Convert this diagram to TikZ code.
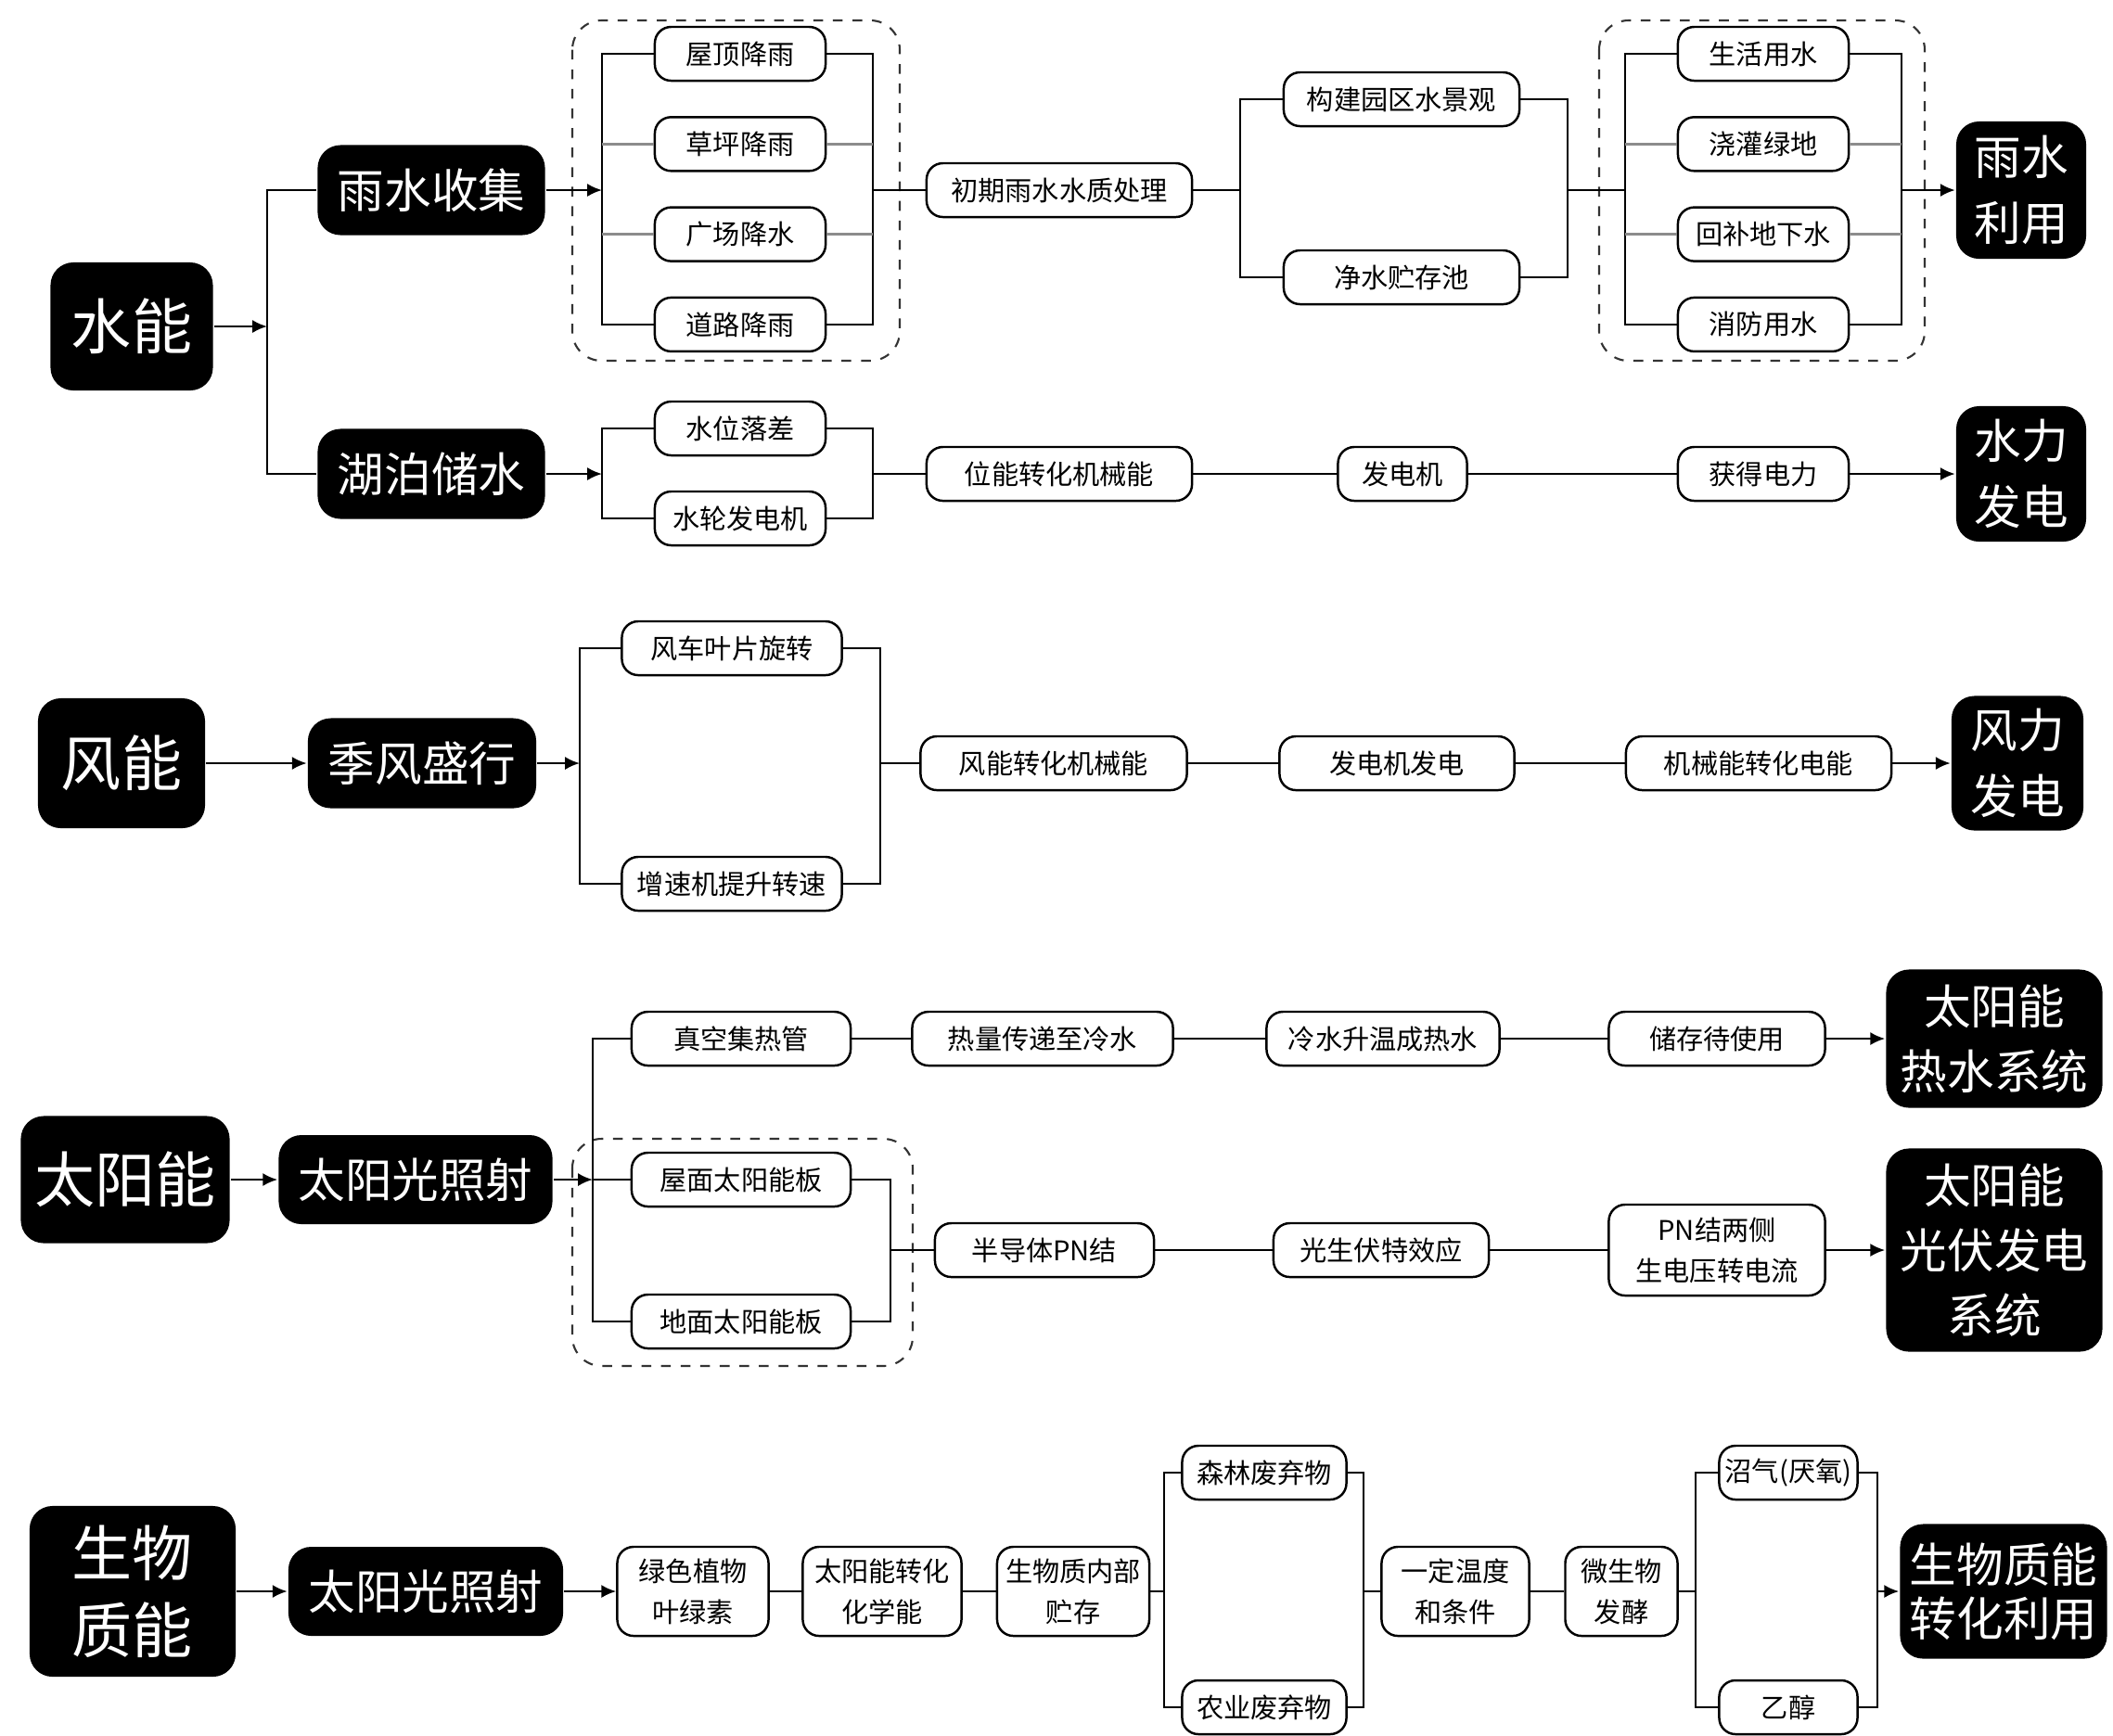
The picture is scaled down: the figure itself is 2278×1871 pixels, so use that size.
\documentclass[tikz,border=0pt]{standalone}
\usepackage{fontspec}
\setmainfont{Noto Sans CJK SC}
\usetikzlibrary{arrows.meta}
\begin{document}
\begin{tikzpicture}[>={Latex[length=4.5pt,width=4pt]}, x=0.01cm, y=-0.01cm, line width=0.7pt,
  box/.style={draw, rounded corners=5pt, minimum height=0.58cm, inner sep=1pt, align=center, font=\fontsize{8.3}{12.5}\selectfont},
  blk/.style={fill=black, text=white, rounded corners=7pt, inner sep=1pt, align=center, font=\fontsize{14.4}{20}\selectfont},
  grpbox/.style={dashed, draw=black!80, rounded corners=9pt, line width=0.6pt},
  midln/.style={draw=black!45}]
\useasboundingbox (0,0) rectangle (2278,1871);

% water
\node[blk, minimum width=1.75cm, minimum height=1.38cm, font=\fontsize{18.5}{24}\selectfont] (water) at (142,352) {水能};
\node[blk, minimum width=2.45cm, minimum height=0.97cm] (rain) at (465,205) {雨水收集};
\node[blk, minimum width=2.45cm, minimum height=0.97cm] (lake) at (465,511) {湖泊储水};
\coordinate (wbus) at (288,352);
\draw[->] (water) -- (wbus);
\draw (rain.west) -| (wbus) |- (lake.west);

\draw[grpbox] (617,22) rectangle (970,389);
\foreach \t [count=\i] in {屋顶降雨,草坪降雨,广场降水,道路降雨}
  \node[box, minimum width=1.84cm] (r\i) at (798,{58+97.3*(\i-1)}) {\t};
\coordinate (rin) at (649,205);
\coordinate (rout) at (941,205);
\draw[->] (rain) -- (rin);
\draw (r1.west) -| (rin) |- (r4.west);
\draw (r1.east) -| (rout) |- (r4.east);
\draw[midln] (r2.west) -- (r2.west -| rin) (r3.west) -- (r3.west -| rin)
  (r2.east) -- (r2.east -| rout) (r3.east) -- (r3.east -| rout);

\node[box, minimum width=2.86cm] (treat) at (1142,205) {初期雨水水质处理};
\node[box, minimum width=2.54cm] (scene) at (1511,107) {构建园区水景观};
\node[box, minimum width=2.54cm] (pool) at (1511,299) {净水贮存池};
\coordinate (tbus) at (1337,205);
\coordinate (sbus) at (1690,205);
\draw (rout) -- (treat) -- (tbus);
\draw (scene.west) -| (tbus) |- (pool.west);
\draw (scene.east) -| (sbus) |- (pool.east);

\draw[grpbox] (1724,22) rectangle (2075,389);
\foreach \t [count=\i] in {生活用水,浇灌绿地,回补地下水,消防用水}
  \node[box, minimum width=1.84cm] (u\i) at (1901,{58+97.3*(\i-1)}) {\t};
\coordinate (uin) at (1752,205);
\coordinate (uout) at (2050,205);
\draw (sbus) -- (uin);
\draw (u1.west) -| (uin) |- (u4.west);
\draw (u1.east) -| (uout) |- (u4.east);
\draw[midln] (u2.west) -- (u2.west -| uin) (u3.west) -- (u3.west -| uin)
  (u2.east) -- (u2.east -| uout) (u3.east) -- (u3.east -| uout);
\node[blk, minimum width=1.40cm, minimum height=1.48cm] (rainuse) at (2179,205) {雨水\\利用};
\draw[->] (uout) -- (rainuse);

\node[box, minimum width=1.84cm] (drop) at (798,462) {水位落差};
\node[box, minimum width=1.84cm] (turb) at (798,559) {水轮发电机};
\coordinate (lin) at (649,511);
\coordinate (lout) at (941,511);
\draw[->] (lake) -- (lin);
\draw (drop.west) -| (lin) |- (turb.west);
\draw (drop.east) -| (lout) |- (turb.east);
\node[box, minimum width=2.86cm] (pot) at (1142,511) {位能转化机械能};
\node[box, minimum width=1.39cm] (gen) at (1512,511) {发电机};
\node[box, minimum width=1.84cm] (power) at (1901,511) {获得电力};
\node[blk, minimum width=1.40cm, minimum height=1.46cm] (hydro) at (2179,511) {水力\\发电};
\draw (lout) -- (pot) -- (gen) -- (power);
\draw[->] (power) -- (hydro);

% wind
\node[blk, minimum width=1.80cm, minimum height=1.40cm, font=\fontsize{18.5}{24}\selectfont] (wind) at (131,823) {风能};
\node[blk, minimum width=2.46cm, minimum height=0.97cm] (monsoon) at (455,823) {季风盛行};
\coordinate (win) at (625,823);
\coordinate (wout) at (949,823);
\draw[->] (wind) -- (monsoon);
\draw[->] (monsoon) -- (win);
\node[box, minimum width=2.37cm] (blade) at (789,699) {风车叶片旋转};
\node[box, minimum width=2.37cm] (gear) at (789,953) {增速机提升转速};
\draw (blade.west) -| (win) |- (gear.west);
\draw (blade.east) -| (wout) |- (gear.east);
\node[box, minimum width=2.87cm] (wmech) at (1136,823) {风能转化机械能};
\node[box, minimum width=2.53cm] (wgen) at (1506,823) {发电机发电};
\node[box, minimum width=2.86cm] (welec) at (1896,823) {机械能转化电能};
\node[blk, minimum width=1.42cm, minimum height=1.45cm] (windpow) at (2175,823) {风力\\发电};
\draw (wout) -- (wmech) -- (wgen) -- (welec);
\draw[->] (welec) -- (windpow);

% solar
\node[blk, minimum width=2.25cm, minimum height=1.37cm, font=\fontsize{18.5}{24}\selectfont] (solar) at (135,1272) {太阳能};
\node[blk, minimum width=2.95cm, minimum height=0.96cm] (sun) at (448,1272) {太阳光照射};
\coordinate (sin) at (639,1272);
\coordinate (sout) at (960,1348);
\draw[->] (solar) -- (sun);
\draw[->] (sun) -- (sin);
\draw[grpbox] (617,1228) rectangle (984,1473);
\node[box, minimum width=2.36cm] (tube) at (799,1120) {真空集热管};
\node[box, minimum width=2.36cm] (roof) at (799,1272) {屋面太阳能板};
\node[box, minimum width=2.36cm] (ground) at (799,1425) {地面太阳能板};
\draw (tube.west) -| (sin) |- (ground.west);
\draw (sin) -- (roof);
\draw (roof.east) -| (sout) |- (ground.east);

\node[box, minimum width=2.81cm] (heat) at (1124,1120) {热量传递至冷水};
\node[box, minimum width=2.51cm] (hot) at (1491,1120) {冷水升温成热水};
\node[box, minimum width=2.33cm] (store) at (1851,1120) {储存待使用};
\node[blk, minimum width=2.33cm, minimum height=1.49cm] (hotsys) at (2150,1120) {太阳能\\热水系统};
\draw (tube) -- (heat) -- (hot) -- (store);
\draw[->] (store) -- (hotsys);

\node[box, minimum width=2.36cm] (pn) at (1126,1348) {半导体PN结};
\node[box, minimum width=2.32cm] (pv) at (1489,1348) {光生伏特效应};
\node[box, minimum width=2.33cm, minimum height=0.98cm] (volt) at (1851,1348) {PN结两侧\\生电压转电流};
\node[blk, minimum width=2.33cm, minimum height=2.19cm] (pvsys) at (2150,1348) {太阳能\\光伏发电\\系统};
\draw (sout) -- (pn) -- (pv) -- (volt);
\draw[->] (volt) -- (pvsys);

% biomass
\node[blk, minimum width=2.22cm, minimum height=1.84cm, font=\fontsize{18.5}{23.5}\selectfont] (bio) at (143,1716) {生物\\质能};
\node[blk, minimum width=2.96cm, minimum height=0.96cm] (sun2) at (459,1716) {太阳光照射};
\node[box, minimum width=1.63cm, minimum height=0.96cm] (plant) at (747,1716) {绿色植物\\叶绿素};
\node[box, minimum width=1.71cm, minimum height=0.96cm] (chem) at (951,1716) {太阳能转化\\化学能};
\node[box, minimum width=1.64cm, minimum height=0.96cm] (inner) at (1157,1716) {生物质内部\\贮存};
\draw[->] (bio) -- (sun2);
\draw[->] (sun2) -- (plant);
\draw (plant) -- (chem) -- (inner);
\coordinate (bin) at (1255,1716);
\coordinate (bout) at (1470,1716);
\node[box, minimum width=1.77cm] (forest) at (1363,1588) {森林废弃物};
\node[box, minimum width=1.77cm] (farm) at (1363,1841) {农业废弃物};
\draw (inner) -- (bin);
\draw (forest.west) -| (bin) |- (farm.west);
\draw (forest.east) -| (bout) |- (farm.east);
\node[box, minimum width=1.59cm, minimum height=0.96cm] (temp) at (1569,1716) {一定温度\\和条件};
\node[box, minimum width=1.21cm, minimum height=0.96cm] (ferm) at (1748,1716) {微生物\\发酵};
\coordinate (fin) at (1828,1716);
\coordinate (fout) at (2024,1716);
\draw (bout) -- (temp) -- (ferm) -- (fin);
\node[box, minimum width=1.49cm] (biogas) at (1928,1588) {沼气(厌氧)};
\node[box, minimum width=1.49cm] (ethanol) at (1928,1841) {乙醇};
\draw (biogas.west) -| (fin) |- (ethanol.west);
\draw (biogas.east) -| (fout) |- (ethanol.east);
\node[blk, minimum width=2.23cm, minimum height=1.45cm, font=\fontsize{14.4}{16.5}\selectfont] (bioout) at (2160,1716) {生物质能\\转化利用};
\draw[->] (fout) -- (bioout);
\end{tikzpicture}
\end{document}
